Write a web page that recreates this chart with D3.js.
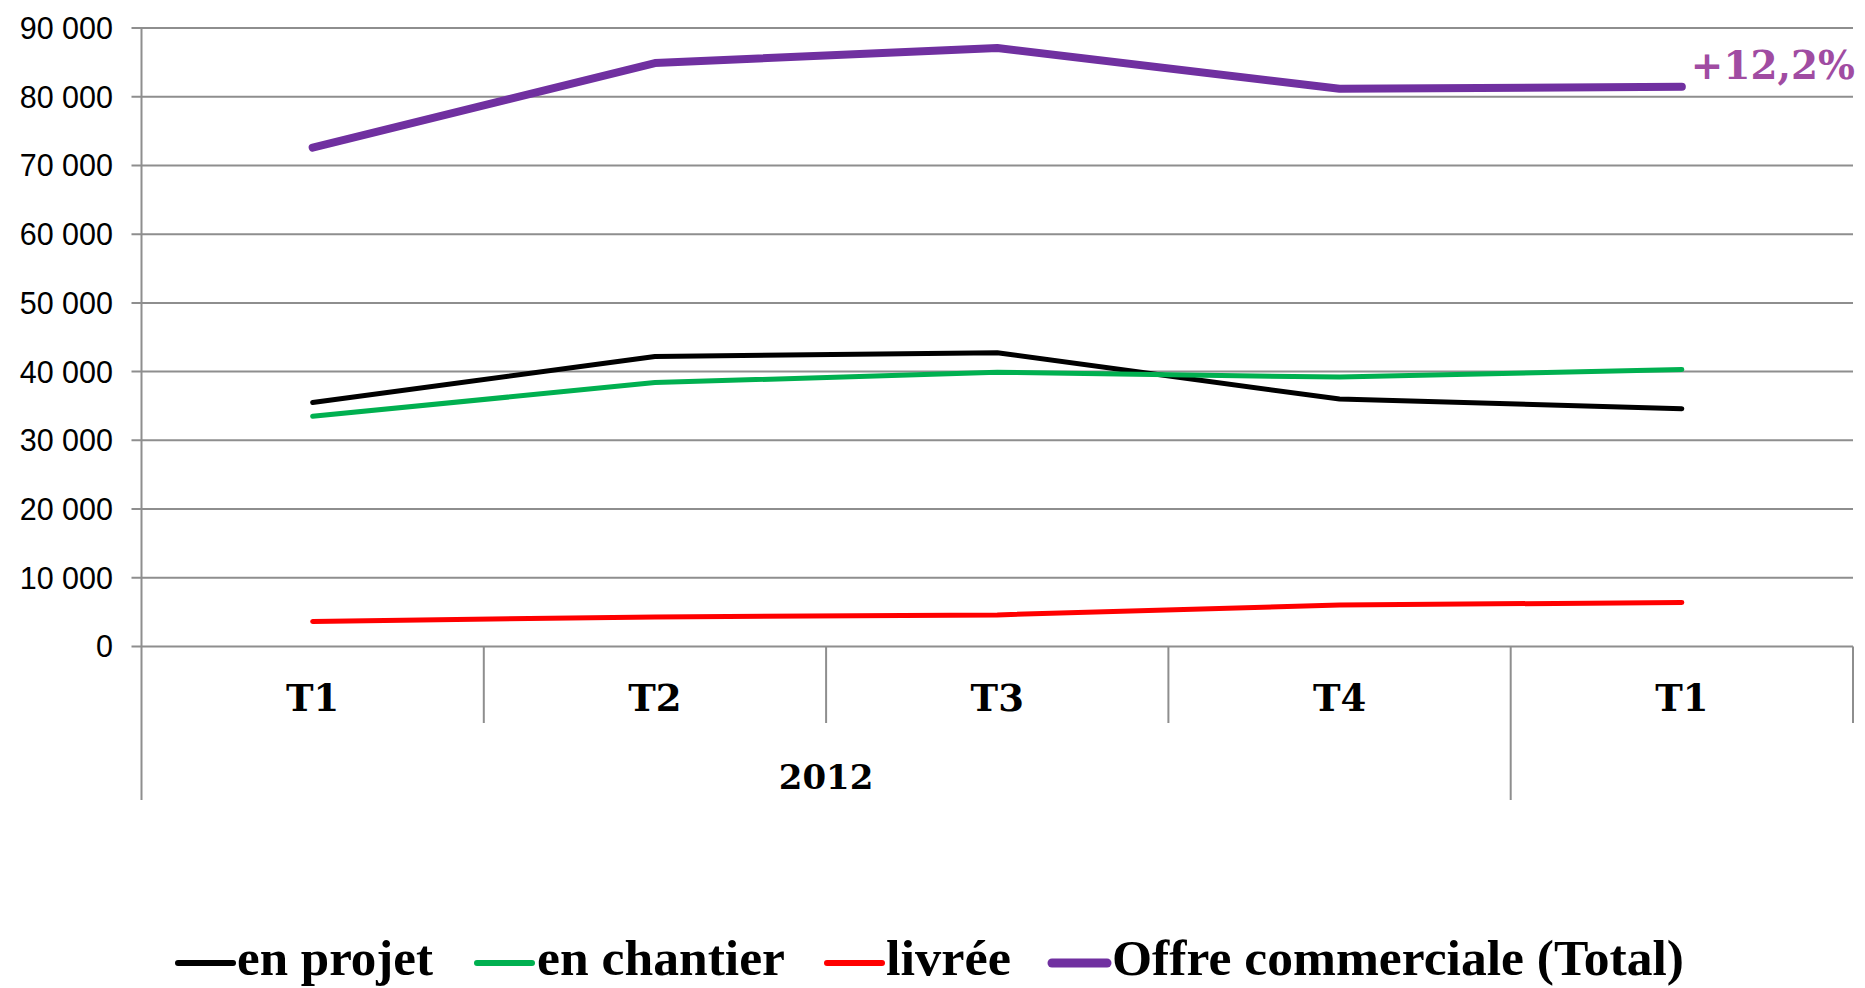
<!DOCTYPE html>
<html>
<head>
<meta charset="utf-8">
<script src="https://cdn.jsdelivr.net/npm/d3@7"></script>
<style>
  html, body { margin: 0; padding: 0; background: #fff; }
  svg { display: block; }
</style>
</head>
<body>
<svg id="chart" width="1865" height="988"></svg>
<script>
// ---- data ----
const categories = ["T1", "T2", "T3", "T4", "T1"];
const groupLabels = ["2012"];           // spans first four quarters
const enProjet    = [35500, 42200, 42750, 36000, 34600];
const enChantier  = [33500, 38400, 39900, 39200, 40300];
const livree      = [3650, 4300, 4600, 6050, 6400];
const offreTotal  = [72600, 84900, 87100, 81150, 81450];
const yTicks      = [0, 10000, 20000, 30000, 40000, 50000, 60000, 70000, 80000, 90000];
const seriesNames = ["en projet", "en chantier", "livrée", "Offre commerciale (Total)"];
const annotation  = "+12,2%";

(function () {
// ---- layout ----
const pLeft = 141.5, pRight = 1853, pTop = 28, pBottom = 646.5;
const svg = d3.select("#chart");

const x = d3.scaleBand().domain(d3.range(categories.length)).range([pLeft, pRight]).padding(0);
const y = d3.scaleLinear().domain([0, 90000]).range([pBottom, pTop]);

const gridColor = "#8e8e8e";
const fmt = v => d3.format(",")(v).replace(/,/g, " ");

// gridlines
svg.append("g").selectAll("line").data(yTicks).join("line")
  .attr("x1", pLeft - 10).attr("x2", pRight)
  .attr("y1", d => y(d)).attr("y2", d => y(d))
  .attr("stroke", gridColor).attr("stroke-width", 2);

// y axis labels
svg.append("g").selectAll("text").data(yTicks).join("text")
  .attr("x", 113).attr("y", d => y(d)).attr("dy", "0.36em")
  .attr("text-anchor", "end")
  .attr("font-family", "'Liberation Sans', Arial, sans-serif")
  .attr("font-size", 30.5).attr("fill", "#000")
  .text(d => fmt(d));

// y axis line (extends down through the category area)
svg.append("line").attr("x1", pLeft).attr("x2", pLeft).attr("y1", pTop).attr("y2", 800)
  .attr("stroke", gridColor).attr("stroke-width", 2);

// category separators
const idx = d3.range(categories.length);
svg.append("g").selectAll("line").data(idx).join("line")
  .attr("x1", i => x(i) + x.bandwidth()).attr("x2", i => x(i) + x.bandwidth())
  .attr("y1", pBottom).attr("y2", i => i === 3 ? 800 : 723)
  .attr("stroke", gridColor).attr("stroke-width", 2);

// category labels
svg.append("g").selectAll("text").data(idx).join("text")
  .attr("x", i => x(i) + x.bandwidth() / 2).attr("y", 711)
  .attr("text-anchor", "middle")
  .attr("font-family", "'DejaVu Serif', Georgia, serif")
  .attr("font-weight", "bold").attr("font-size", 37).attr("fill", "#000")
  .text(i => categories[i]);

// group label
svg.append("text")
  .attr("x", (x(0) + x(3) + x.bandwidth()) / 2).attr("y", 789)
  .attr("text-anchor", "middle")
  .attr("font-family", "'DejaVu Serif', Georgia, serif")
  .attr("font-weight", "bold").attr("font-size", 34).attr("fill", "#000")
  .text(groupLabels[0]);

// series
const series = [
  { name: seriesNames[0], values: enProjet,   color: "#000000", width: 5 },
  { name: seriesNames[1], values: enChantier, color: "#00B050", width: 5 },
  { name: seriesNames[2], values: livree,     color: "#FF0000", width: 5 },
  { name: seriesNames[3], values: offreTotal, color: "#7030A0", width: 8 }
];
const line = d3.line().x((d, i) => x(i) + x.bandwidth() / 2).y(d => y(d));
svg.append("g").selectAll("path").data(series).join("path")
  .attr("d", s => line(s.values))
  .attr("fill", "none").attr("stroke", s => s.color)
  .attr("stroke-width", s => s.width)
  .attr("stroke-linecap", "round").attr("stroke-linejoin", "round");

// annotation
const last = offreTotal.length - 1;
svg.append("text")
  .attr("x", x(last) + x.bandwidth() / 2 + 9).attr("y", 79)
  .attr("font-family", "'DejaVu Serif', Georgia, serif")
  .attr("font-weight", "bold").attr("font-size", 39).attr("fill", "#A04CA2")
  .attr("textLength", 164).attr("lengthAdjust", "spacingAndGlyphs")
  .text(annotation);

// legend
const legendLayout = [
  { sx: 178, tx: 237, tw: 196 },
  { sx: 477, tx: 537, tw: 248 },
  { sx: 827, tx: 886, tw: 125 },
  { sx: 1052, tx: 1112, tw: 572 }
];
const lg = svg.append("g").selectAll("g").data(series).join("g");
lg.append("line")
  .attr("x1", (s, i) => legendLayout[i].sx).attr("x2", (s, i) => legendLayout[i].sx + 55)
  .attr("y1", 963).attr("y2", 963)
  .attr("stroke", s => s.color).attr("stroke-width", s => s.width + 1)
  .attr("stroke-linecap", "round");
lg.append("text")
  .attr("x", (s, i) => legendLayout[i].tx).attr("y", 975)
  .attr("font-family", "'Liberation Serif', 'Times New Roman', serif")
  .attr("font-weight", "bold").attr("font-size", 50).attr("fill", "#000")
  .attr("textLength", (s, i) => legendLayout[i].tw)
  .attr("lengthAdjust", "spacingAndGlyphs")
  .text(s => s.name);
})();
</script>
</body>
</html>
